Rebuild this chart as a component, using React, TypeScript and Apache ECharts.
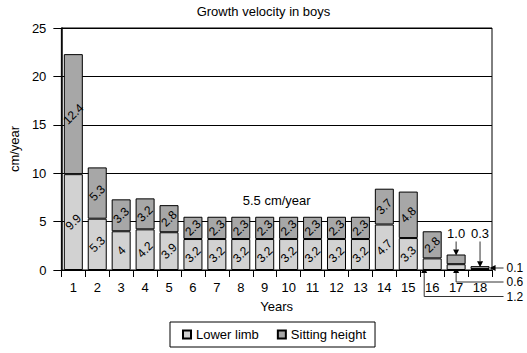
import React, { useEffect, useRef } from "react";
import * as echarts from "echarts";

const years = ["1", "2", "3", "4", "5", "6", "7", "8", "9", "10", "11", "12", "13", "14", "15", "16", "17", "18"];
const lowerLimb = [9.9, 5.3, 4, 4.2, 3.9, 3.2, 3.2, 3.2, 3.2, 3.2, 3.2, 3.2, 3.2, 4.7, 3.3, 1.2, 0.6, 0.1];
const sittingHeight = [12.4, 5.3, 3.3, 3.2, 2.8, 2.3, 2.3, 2.3, 2.3, 2.3, 2.3, 2.3, 2.3, 3.7, 4.8, 2.8, 1.0, 0.3];
const hideLowerLabel = [15, 16, 17];
const hideSittingLabel = [16, 17];
const plateauText = "5.5 cm/year";
const plateauValue = 7.2;
const plateauRange = [5, 12];

const FONT = "Liberation Sans, Arial, sans-serif";
const LIGHT = "#d2d2d2";
const DARK = "#a7a7a7";
const BAR_W = 19;

export default function App() {
  const ref = useRef<HTMLDivElement>(null);
  useEffect(() => {
    if (!ref.current) return;
    const chart = echarts.init(ref.current, undefined, { renderer: "svg" });
    const labelBase = {
      show: true,
      position: "inside",
      rotate: 45,
      color: "#000",
      textBorderWidth: 0,
      textBorderColor: "transparent",
      fontSize: 12,
      fontFamily: FONT,
    };
    chart.setOption({
      animation: false,
      backgroundColor: "#fff",
      textStyle: { fontFamily: FONT },
      title: {
        text: "Growth velocity in boys",
        left: "center",
        top: 0,
        textStyle: { fontSize: 13, fontWeight: "normal", color: "#000", fontFamily: FONT },
      },
      grid: {
        left: 53,
        right: 35,
        top: 28,
        bottom: 83,
        show: true,
        borderColor: "#000",
        borderWidth: 1,
        backgroundColor: "transparent",
      },
      legend: {
        left: 170,
        top: 322,
        orient: "horizontal",
        icon: "rect",
        itemWidth: 8,
        itemHeight: 8,
        itemGap: 18,
        padding: [6, 9, 6, 12],
        borderColor: "#000",
        borderWidth: 1,
        textStyle: { fontSize: 13, color: "#000", fontFamily: FONT },
        data: ["Lower limb", "Sitting height"],
      },
      xAxis: {
        type: "category",
        data: years,
        name: "Years",
        nameLocation: "middle",
        nameGap: 30,
        nameTextStyle: { fontSize: 13, color: "#000", fontFamily: FONT },
        axisLine: { lineStyle: { color: "#000", width: 1 } },
        axisTick: { show: true, length: 7, lineStyle: { color: "#000" } },
        axisLabel: { fontSize: 13, color: "#000", margin: 11, fontFamily: FONT },
      },
      yAxis: {
        type: "value",
        min: 0,
        max: 25,
        interval: 5,
        name: "cm/year",
        nameLocation: "middle",
        nameGap: 37,
        nameTextStyle: { fontSize: 13, color: "#000", fontFamily: FONT },
        axisLine: { show: true, lineStyle: { color: "#000", width: 1.5 } },
        axisTick: { show: true, length: 8, lineStyle: { color: "#000" } },
        axisLabel: { fontSize: 13, color: "#000", margin: 15, fontFamily: FONT },
        splitLine: { show: true, lineStyle: { color: "#000", width: 1 } },
      },
      series: [
        {
          name: "Lower limb",
          type: "bar",
          stack: "total",
          barWidth: BAR_W,
          itemStyle: { color: LIGHT, borderColor: "#000", borderWidth: 1 },
          label: labelBase,
          data: lowerLimb.map((v, i) =>
            hideLowerLabel.includes(i) ? { value: v, label: { show: false } } : v
          ),
        },
        {
          name: "Sitting height",
          type: "bar",
          stack: "total",
          barWidth: BAR_W,
          itemStyle: { color: DARK, borderColor: "#000", borderWidth: 1 },
          label: labelBase,
          data: sittingHeight.map((v, i) =>
            hideSittingLabel.includes(i) ? { value: v, label: { show: false } } : v
          ),
        },
      ],
    });

    const px = (i: number, v: number) =>
      chart.convertToPixel({ xAxisIndex: 0, yAxisIndex: 0 }, [i, v]) as number[];

    const [x16, base] = px(15, 0);
    const [x17] = px(16, 0);
    const [x18] = px(17, 0);
    const top17 = px(16, lowerLimb[16] + sittingHeight[16])[1];
    const top18 = px(17, lowerLimb[17] + sittingHeight[17])[1];
    const pA = px(plateauRange[0], plateauValue);
    const pB = px(plateauRange[1], plateauValue);
    const lineColor = "#333";
    const textY = top17 - 21;
    const textX = x18 + BAR_W / 2 + 17;
    const lineEnd = textX - 3;

    const txt = (t: string, x: number, y: number, align: string, size = 13) => ({
      type: "text",
      x,
      y,
      silent: true,
      style: {
        text: t,
        fill: "#000",
        fontSize: size,
        fontFamily: FONT,
        textAlign: align,
        textVerticalAlign: "middle",
      },
    });
    const ln = (x1: number, y1: number, x2: number, y2: number) => ({
      type: "line",
      silent: true,
      shape: { x1, y1, x2, y2 },
      style: { stroke: lineColor, lineWidth: 1 },
    });
    const arrowDown = (x: number, y: number) => ({
      type: "polygon",
      silent: true,
      shape: { points: [[x - 3, y - 6], [x + 3, y - 6], [x, y]] },
      style: { fill: "#000" },
    });
    const arrowUp = (x: number, y: number) => ({
      type: "polygon",
      silent: true,
      shape: { points: [[x - 3, y + 6], [x + 3, y + 6], [x, y]] },
      style: { fill: "#000" },
    });
    const arrowLeft = (x: number, y: number) => ({
      type: "polygon",
      silent: true,
      shape: { points: [[x + 6, y - 3], [x + 6, y + 3], [x, y]] },
      style: { fill: "#000" },
    });

    const y01 = base - 2;
    const y06 = base + 12;
    const y12 = base + 26.5;
    const x16line = x16 - 8;

    chart.setOption({
      graphic: [
        txt(plateauText, (pA[0] + pB[0]) / 2, pA[1], "center"),
        // 1.0 above bar 17
        txt(sittingHeight[16].toFixed(1), x17, textY, "center"),
        ln(x17, textY + 8, x17, top17 - 5),
        arrowDown(x17, top17 + 1),
        // 0.3 above bar 18
        txt(String(sittingHeight[17]), x18, textY, "center"),
        ln(x18, textY + 8, x18, top18 - 5),
        arrowDown(x18, top18 + 1),
        // 0.1
        txt(String(lowerLimb[17]), textX, y01, "left", 12),
        ln(lineEnd, y01, x18 + BAR_W / 2 + 5, y01),
        arrowLeft(x18 + BAR_W / 2, y01),
        // 0.6
        txt(String(lowerLimb[16]), textX, y06, "left", 12),
        ln(lineEnd, y06, x17, y06),
        ln(x17, y06, x17, base - 2),
        arrowUp(x17, base - 3),
        // 1.2
        txt(String(lowerLimb[15]), textX, y12, "left", 12),
        ln(lineEnd, y12, x16line, y12),
        ln(x16line, y12, x16line, base - 2),
        arrowUp(x16line, base - 3),
      ],
    });

    return () => chart.dispose();
  }, []);
  return (
    <div
      ref={ref}
      style={{ position: "fixed", left: 0, top: 0, width: 527, height: 353, background: "#fff" }}
    />
  );
}
